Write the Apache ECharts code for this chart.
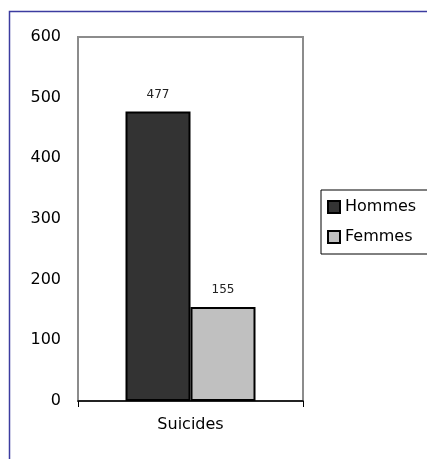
<!DOCTYPE html>
<html><head><meta charset="utf-8">
<script src="https://cdn.jsdelivr.net/npm/echarts@6/dist/echarts.min.js"></script>
<style>html,body{margin:0;padding:0;background:#fff}#c{width:427px;height:459px}</style>
</head><body><div id="c"></div>
<script>
const categories = ['Suicides'];
const hommes = [477];
const femmes = [155];
const yTicks = [0, 100, 200, 300, 400, 500, 600];

const chart = echarts.init(document.getElementById('c'), null, {renderer: 'canvas'});
const F = 'DejaVu Sans';
chart.setOption({
  animation: false,
  backgroundColor: '#fff',
  graphic: [{
    type: 'rect', z: 0, silent: true,
    shape: {x: 9.5, y: 11.5, width: 600, height: 600},
    style: {fill: 'none', stroke: '#3c3ca0', lineWidth: 1.5}
  }],
  grid: {left: 78, right: 124, top: 37, bottom: 58, show: true, borderColor: '#8c8c8c', borderWidth: 2, backgroundColor: 'transparent'},
  legend: {
    orient: 'vertical', left: 321, top: 190,
    data: ['Hommes', 'Femmes'],
    icon: 'rect',
    itemWidth: 12, itemHeight: 12, itemGap: 14,
    padding: [9, 12, 9, 6],
    borderColor: '#000', borderWidth: 1,
    textStyle: {fontFamily: F, fontSize: 16, color: '#000'}
  },
  xAxis: {
    type: 'category', data: categories,
    axisLine: {lineStyle: {color: '#000', width: 1.5}},
    axisTick: {show: true, length: 6, lineStyle: {color: '#000'}},
    axisLabel: {fontFamily: F, fontSize: 16, color: '#000', margin: 16}
  },
  yAxis: {
    type: 'value', min: yTicks[0], max: yTicks[yTicks.length - 1], interval: 100,
    axisLine: {show: false}, axisTick: {show: false}, splitLine: {show: false},
    axisLabel: {fontFamily: F, fontSize: 16, color: '#000', margin: 17}
  },
  series: [
    {name: 'Hommes', type: 'bar', data: hommes, barWidth: 65, barGap: '0%',
     itemStyle: {color: '#333333', borderColor: '#000', borderWidth: 2},
     label: {show: true, position: 'top', distance: 11, fontFamily: F, fontSize: 12, color: '#222'}},
    {name: 'Femmes', type: 'bar', data: femmes, barWidth: 65, barGap: '0%',
     itemStyle: {color: '#c0c0c0', borderColor: '#000', borderWidth: 2},
     label: {show: true, position: 'top', distance: 11, fontFamily: F, fontSize: 12, color: '#222'}}
  ]
});
</script></body></html>
